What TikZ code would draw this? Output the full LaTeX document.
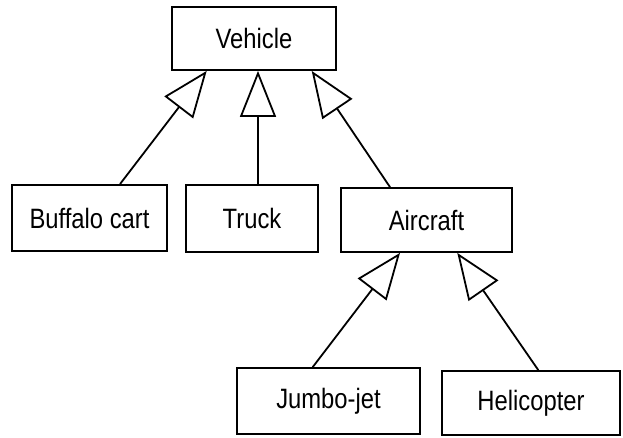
\documentclass[tikz,border=0pt]{standalone}
\usepackage{fontspec}
\setmainfont[FakeStretch=0.85]{Liberation Sans}
\usetikzlibrary{arrows.meta}

\tikzset{
  classbox/.style={draw, line width=1.8pt, inner sep=0pt,
    font=\fontsize{28}{32}\selectfont},
  gen/.style={line width=1.8pt,
    -{Triangle[open, length=46pt, width=36pt, line width=1.8pt]}}
}

\begin{document}
\begin{tikzpicture}[x=1pt, y=1pt]
  % page frame
  \fill[white] (0,0) rectangle (623,-437);
  \useasboundingbox (0,0) rectangle (623,-437);

  % classes
  \node[classbox, minimum width=164pt, minimum height=63pt] (veh) at (254,-38.5) {Vehicle};
  \node[classbox, minimum width=155pt, minimum height=66pt] (bc)  at (89.5,-218) {Buffalo cart};
  \node[classbox, minimum width=132pt, minimum height=67pt] (tr)  at (252,-218.5) {Truck};
  \node[classbox, minimum width=171pt, minimum height=64pt] (ac)  at (426.5,-220) {Aircraft};
  \node[classbox, minimum width=183pt, minimum height=66pt] (jj)  at (328.5,-401) {Jumbo-jet};
  \node[classbox, minimum width=178pt, minimum height=64pt] (hc)  at (531,-403) {Helicopter};

  % generalisation links
  \draw[gen] ([xshift=30.5pt]bc.north) -- ([xshift=-47.3pt]veh.south);
  \draw[gen] ([xshift=6pt]tr.north)    -- ([xshift=4pt]veh.south);
  \draw[gen] ([xshift=-36.5pt]ac.north) -- ([xshift=57.7pt]veh.south);
  \draw[gen] ([xshift=-15.8pt]jj.north) -- ([xshift=-26.5pt]ac.south);
  \draw[gen] ([xshift=7.3pt]hc.north)  -- ([xshift=30.8pt]ac.south);
\end{tikzpicture}
\end{document}
